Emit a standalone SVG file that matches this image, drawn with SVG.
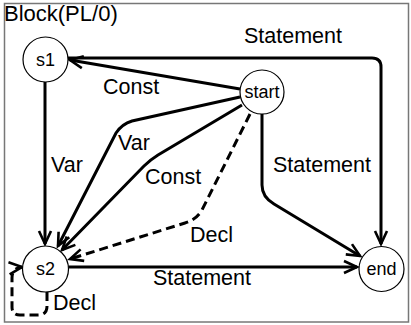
<svg xmlns="http://www.w3.org/2000/svg" width="411" height="325" viewBox="0 0 411 325">
<defs>
<style>
.frame{fill:#fff;stroke:#777;stroke-width:1.5}
.node circle{fill:#fff;stroke:#000;stroke-width:1.2}
.node text{font-family:"Liberation Sans",Arial,sans-serif;font-size:18px;text-anchor:middle;fill:#000}
.edge{fill:none;stroke:#000;stroke-width:3;marker-end:url(#arr)}
.dash{stroke-dasharray:9 5}
.lbl{font-family:"Liberation Sans",Arial,sans-serif;font-size:21.5px;fill:#000}
</style>
<marker id="arr" markerUnits="userSpaceOnUse" markerWidth="20" markerHeight="16" viewBox="-16 -8 20 16" refX="0" refY="0" orient="auto">
<path d="M-13,-6 L0,0 L-13,6" fill="none" stroke="#000" stroke-width="2.6" stroke-linejoin="miter"/>
</marker>
</defs>
<rect class="frame" x="4.5" y="3.5" width="404" height="318.5"/>
<text class="lbl" x="4" y="21" style="font-size:22px">Block(PL/0)</text>
<g id="connectors">
<path id="e-start-s1" class="edge" d="M240,89 L70,60"/>
<path id="e-s1-end" class="edge" d="M68,58 L372,58 Q381,58 381,67 L381,244"/>
<path id="e-s1-s2" class="edge" d="M45,82 L45,244"/>
<path id="e-start-s2-var" class="edge" d="M240,97 L132,121 Q122,124 116,133 L58,246"/>
<path id="e-start-s2-const" class="edge" d="M242,105 L158,155 Q150,160 144,166 L62,250"/>
<path id="e-start-s2-decl" class="edge dash" d="M250,114 L202,210 Q196,220 185,223 L70,259"/>
<path id="e-start-end" class="edge" d="M262,114 L262,185 Q262,197 274,204 L360,256"/>
<path id="e-s2-end" class="edge" d="M68,267 L357,267"/>
<path id="e-s2-s2" class="edge dash" d="M47,292 L47,306 Q47,315 38,315 L20,315 Q12,315 12,307 L12,278 Q12,268 22,267"/>
<text class="lbl" x="244" y="43">Statement</text>
<text class="lbl" x="103" y="94">Const</text>
<text class="lbl" x="51" y="172">Var</text>
<text class="lbl" x="118" y="150">Var</text>
<text class="lbl" x="145" y="184">Const</text>
<text class="lbl" x="273" y="172">Statement</text>
<text class="lbl" x="190" y="242">Decl</text>
<text class="lbl" x="153" y="285">Statement</text>
<text class="lbl" x="53" y="310">Decl</text>
</g>
<g id="s1" class="node"><circle cx="45.5" cy="59.5" r="22.5"/><text x="45.5" y="65.5">s1</text></g>
<g id="start" class="node"><circle cx="262" cy="92" r="22"/><text x="262" y="98">start</text></g>
<g id="s2" class="node"><circle cx="45.5" cy="269" r="23"/><text x="45.5" y="275">s2</text></g>
<g id="end" class="node"><circle cx="381.5" cy="269" r="22.5"/><text x="381.5" y="275">end</text></g>
</svg>
